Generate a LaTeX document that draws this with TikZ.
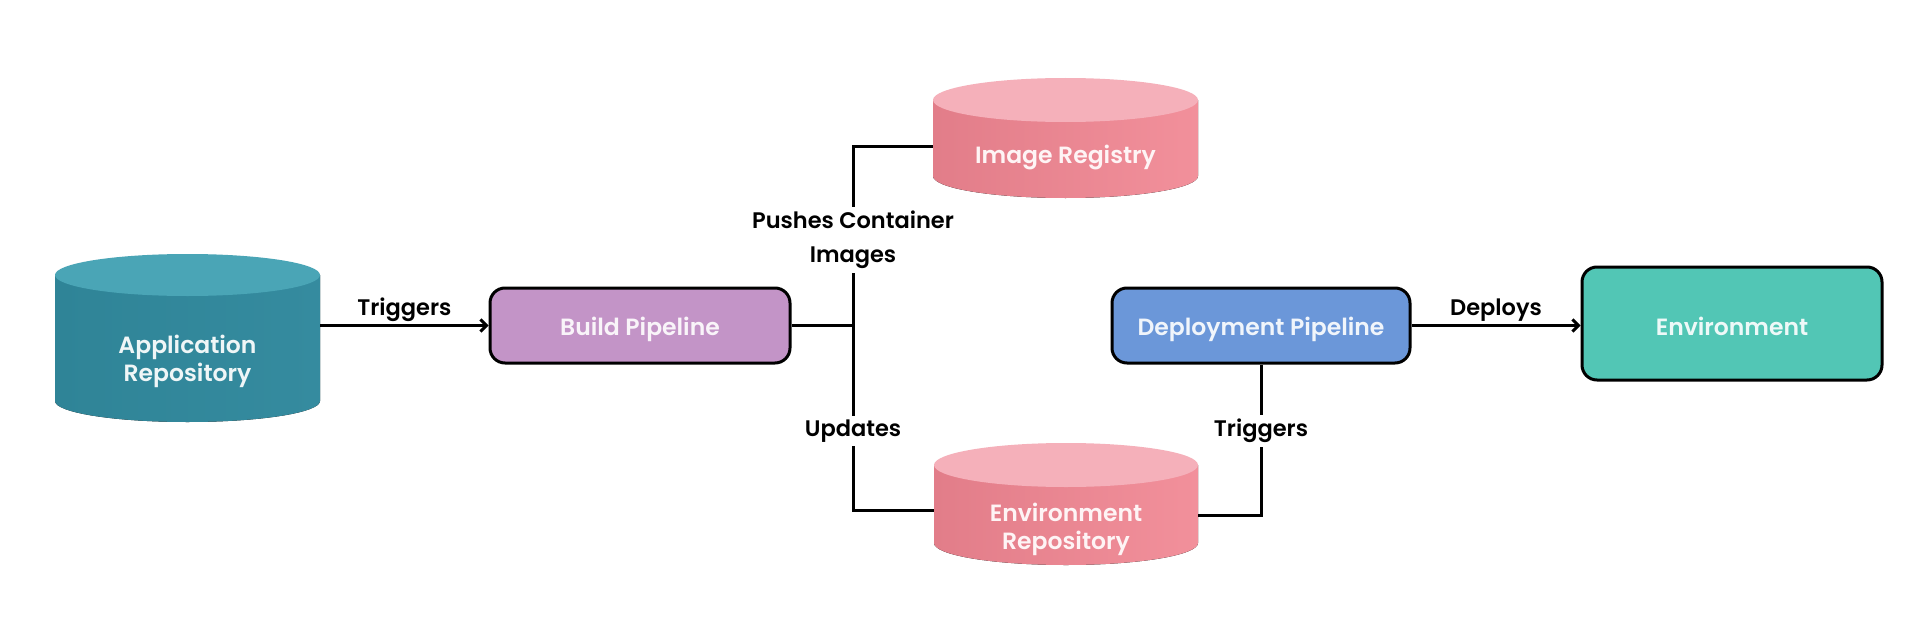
\documentclass[tikz,border=0pt]{standalone}
\usepackage{fontspec}
\setmainfont{Poppins}[UprightFont={* SemiBold}, BoldFont={* Bold}]
\usetikzlibrary{arrows.meta}
\definecolor{appside}{HTML}{358B9F}
\definecolor{appsideL}{HTML}{2F8497}
\definecolor{apptop}{HTML}{4AA5B6}
\definecolor{pinkL}{HTML}{E27D89}
\definecolor{pinkR}{HTML}{F2909B}
\definecolor{pinktop}{HTML}{F5B0BA}
\definecolor{buildfill}{HTML}{C394C7}
\definecolor{deployfill}{HTML}{6B97D9}
\definecolor{envfill}{HTML}{52C6B5}
\newcommand\mycyl[7]{%
  \fill[#6] (#1-#3,-#2-#5) -- (#1-#3,-#4+#5) arc[start angle=180,end angle=360,x radius=#3,y radius=#5] -- (#1+#3,-#2-#5) -- cycle;
  \fill[#7] (#1,-#2-#5) ellipse[x radius=#3,y radius=#5];
}
\tikzset{
  boxnode/.style={draw=black, line width=3pt, rounded corners=15pt, inner sep=0pt, font=\fontsize{23.5}{29}\selectfont, align=center, text height=19pt, text depth=0pt},
  cyltext/.style={inner sep=0pt, font=\fontsize{23.5}{28}\selectfont, align=center},
  lbl/.style={font=\fontsize{22.5}{34}\selectfont, align=center, text=black},
  gaplbl/.style={lbl, fill=white, inner sep=4pt},
  conn/.style={line width=3pt, draw=black},
  arr/.style={conn, -{Straight Barb[length=6pt,width=12pt,line width=3pt]}},
}
\begin{document}
\begin{tikzpicture}[x=1pt,y=1pt]
\fill[white] (0,0) rectangle (1920,-642);
\useasboundingbox (0,0) rectangle (1920,-642);

% cylinders
\mycyl{187.5}{254}{132.5}{422}{21}{left color=appsideL, right color=appside}{apptop}
\mycyl{1065.5}{78}{132.5}{198}{22}{left color=pinkL, right color=pinkR}{pinktop}
\mycyl{1066}{443}{132}{565}{22}{left color=pinkL, right color=pinkR}{pinktop}

\node[cyltext, text=white!92!appside, minimum width=265pt] (app) at (187.5,-361) {Application\\Repository};
\node[cyltext, text=white!90!pinkR, minimum width=265pt] (ir) at (1065.5,-157) {Image Registry};
\node[cyltext, text=white!90!pinkR, minimum width=264pt] (er) at (1066,-529) {Environment\\Repository};

% boxes
\node[boxnode, fill=buildfill, text=white!90!buildfill, minimum width=300pt, minimum height=75pt] (build) at (640,-325.5) {Build Pipeline};
\node[boxnode, fill=deployfill, text=white!90!deployfill, minimum width=298pt, minimum height=75pt] (deploy) at (1261,-325.5) {Deployment Pipeline};
\node[boxnode, fill=envfill, text=white!90!envfill, minimum width=300pt, minimum height=113pt, text height=24pt] (env) at (1732,-323.5) {Environment};

% junctions
\coordinate (jt) at (853,-146);
\coordinate (jb) at (853,-510);
\coordinate (jd) at (deploy.south |- 0,-515);

% connectors
\draw[arr] (app.east |- build.west) -- node[lbl, midway, above=-1pt] {Triggers} (build.west);
\draw[conn] (build.east) -- (build.east -| jt);
\draw[conn] (ir.west |- jt) -- (jt) -- (jb) -- (er.west |- jb);
\draw[conn] (deploy.south) -- (jd) -- (er.east |- jd);
\draw[arr] (deploy.east) -- node[lbl, midway, above=-1pt] {Deploys} (env.west |- deploy.east);

% labels on lines
\node[gaplbl] (lpush) at (853,-240) {Pushes Container\\Images};
\node[gaplbl] (lupd) at (853,-431) {Updates};
\node[gaplbl] (ltrig) at (1261,-431) {Triggers};
\end{tikzpicture}
\end{document}
